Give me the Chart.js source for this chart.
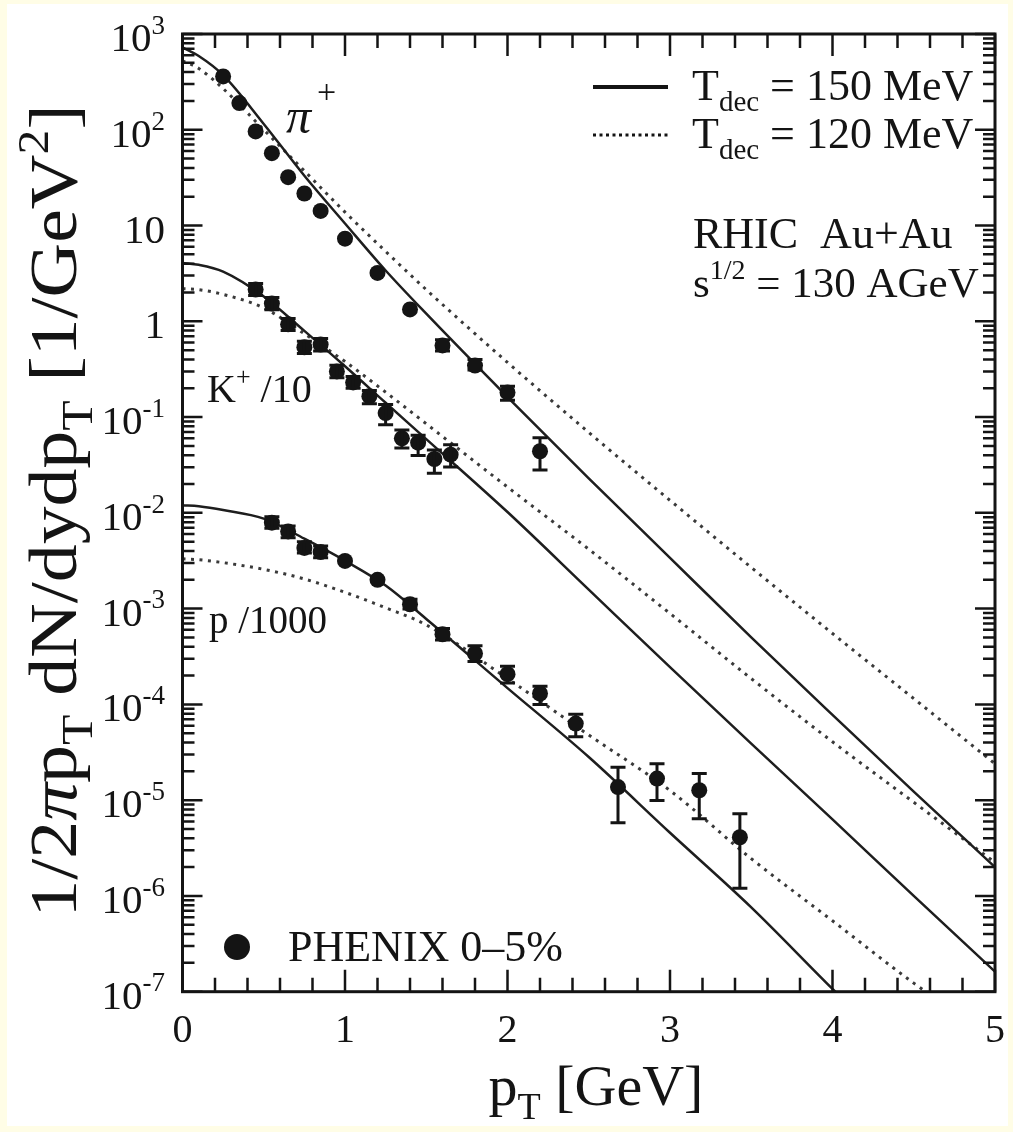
<!DOCTYPE html>
<html>
<head>
<meta charset="utf-8">
<script src="https://cdn.jsdelivr.net/npm/chart.js@4.4.1/dist/chart.umd.min.js"></script>
<style>
  html, body { margin: 0; padding: 0; background: #fffde6; }
  canvas { display: block; }
</style>
</head>
<body>
<canvas id="spectraChart" width="1013" height="1132"></canvas>
<script>
/* PHENIX 0-5% points */
const pionPt  = [0.25, 0.35, 0.45, 0.55, 0.65, 0.75, 0.85, 1.0, 1.2, 1.4, 1.6, 1.8, 2.0, 2.2];
const pionVal = [361, 190, 96, 57, 32, 21.6, 14.2, 7.3, 3.2, 1.33, 0.56, 0.345, 0.181, 0.044];
const pionLo  = [null, null, null, null, null, null, null, null, null, null, 0.49, 0.31, 0.15, 0.028];
const pionHi  = [null, null, null, null, null, null, null, null, null, null, 0.64, 0.40, 0.21, 0.061];

const kaonPt  = [0.45, 0.55, 0.65, 0.75, 0.85, 0.95, 1.05, 1.15, 1.25, 1.35, 1.45, 1.55, 1.65];
const kaonVal = [2.15, 1.53, 0.93, 0.536, 0.571, 0.30, 0.23, 0.165, 0.110, 0.060, 0.054, 0.0365, 0.0405];
const kaonLo  = [1.86, 1.32, 0.80, 0.46, 0.49, 0.257, 0.20, 0.138, 0.083, 0.0475, 0.0398, 0.0259, 0.0302];
const kaonHi  = [2.48, 1.77, 1.07, 0.62, 0.66, 0.347, 0.266, 0.19, 0.135, 0.0733, 0.0645, 0.0452, 0.0513];

const protonPt  = [0.55, 0.65, 0.75, 0.85, 1.0, 1.2, 1.4, 1.6, 1.8, 2.0, 2.2, 2.42, 2.68, 2.92, 3.18, 3.43];
const protonVal = [7.9e-3, 6.4e-3, 4.3e-3, 3.9e-3, 3.15e-3, 2.0e-3, 1.11e-3, 5.4e-4, 3.4e-4, 2.07e-4, 1.3e-4, 6.3e-5, 1.37e-5, 1.68e-5, 1.27e-5, 4.1e-6];
const protonLo  = [6.9e-3, 5.5e-3, 3.8e-3, 3.4e-3, null, null, 9.9e-4, 4.7e-4, 2.8e-4, 1.67e-4, 1.0e-4, 4.6e-5, 5.8e-6, 9.9e-6, 6.4e-6, 1.2e-6];
const protonHi  = [9.1e-3, 7.3e-3, 5.0e-3, 4.5e-3, null, null, 1.25e-3, 6.2e-4, 4.1e-4, 2.5e-4, 1.55e-4, 7.9e-5, 2.2e-5, 2.4e-5, 1.9e-5, 7.2e-6];

/* hydro curves, T_dec = 150 MeV (solid) and 120 MeV (dotted) */
const modelPt    = [0, 0.1, 0.25, 0.5, 0.75, 1, 1.25, 1.5, 2, 2.5, 3, 3.5, 4, 4.5, 5];
const pionT150   = [724, 589, 372, 115, 33.1, 10.5, 3.39, 1.20, 0.162, 0.0229, 3.39e-3, 5.0e-4, 7.76e-5, 1.23e-5, 2.0e-6];
const pionT120   = [525, 437, 269, 100, 37.2, 13.8, 5.37, 2.14, 0.372, 0.0692, 0.0135, 2.69e-3, 5.5e-4, 1.15e-4, 2.4e-5];
const kaonT150   = [4.07, 3.89, 3.31, 1.82, 0.794, 0.339, 0.141, 0.0589, 0.0102, 1.58e-3, 2.45e-4, 3.89e-5, 6.3e-6, 1.0e-6, 1.62e-7];
const kaonT120   = [2.19, 2.14, 1.91, 1.38, 0.741, 0.380, 0.182, 0.0851, 0.0186, 4.17e-3, 8.9e-4, 1.86e-4, 4.07e-5, 9.5e-6, 2.24e-6];
const protonT150 = [0.0120, 0.0117, 0.0107, 8.7e-3, 5.37e-3, 3.16e-3, 1.74e-3, 7.8e-4, 1.48e-4, 2.82e-5, 4.57e-6, 7.6e-7, 1.07e-7, 1.6e-8, 2.5e-9];
const protonT120 = [3.31e-3, 3.24e-3, 3.02e-3, 2.57e-3, 2.04e-3, 1.48e-3, 1.02e-3, 6.76e-4, 1.86e-4, 4.79e-5, 1.26e-5, 2.45e-6, 5.5e-7, 1.23e-7, 3.2e-8];

/* axes */
const xTicks = [0, 1, 2, 3, 4, 5];
const yDecades = [-7, -6, -5, -4, -3, -2, -1, 0, 1, 2, 3];

const SERIF = '"Liberation Serif", "Times New Roman", serif';
const INK = '#141414';

function pairs(xs, ys) {
  return xs.map((x, i) => ({ x: x, y: ys[i] }));
}

function points(xs, ys, lo, hi) {
  return {
    data: pairs(xs, ys), errLo: lo, errHi: hi,
    showLine: false, pointRadius: 8, pointHoverRadius: 8,
    pointBackgroundColor: INK, pointBorderColor: INK, pointBorderWidth: 0, order: 0
  };
}

function curve(ys, dotted) {
  return {
    data: pairs(modelPt, ys), showLine: true, pointRadius: 0,
    borderColor: dotted ? '#3a3a3a' : '#1e1e1e', borderWidth: dotted ? 3 : 2.5,
    borderDash: dotted ? [3, 5.5] : [], cubicInterpolationMode: 'monotone', order: 1
  };
}

// text with sub/superscripts: parts = [text, 'n' | 'sub' | 'sup', italic?]
function drawRich(c, parts, x, y, size, align) {
  const fontFor = p => (p[2] ? 'italic ' : '') + (p[1] === 'n' ? size : Math.round(size * 0.66)) + 'px ' + SERIF;
  let w = 0;
  parts.forEach(p => { c.font = fontFor(p); w += c.measureText(p[0]).width; });
  let cx = align === 'center' ? x - w / 2 : align === 'right' ? x - w : x;
  c.textAlign = 'left';
  c.textBaseline = 'alphabetic';
  parts.forEach(p => {
    c.font = fontFor(p);
    const dy = p[1] === 'sub' ? size * 0.24 : p[1] === 'sup' ? -size * 0.42 : 0;
    c.fillText(p[0], cx, y + dy);
    cx += c.measureText(p[0]).width;
  });
  return w;
}

const errorBars = {
  id: 'errorBars',
  afterDatasetsDraw(chart) {
    const c = chart.ctx, ys = chart.scales.y;
    chart.data.datasets.forEach((ds, di) => {
      if (!ds.errLo) return;
      const meta = chart.getDatasetMeta(di);
      c.save();
      c.strokeStyle = INK;
      c.lineWidth = 3;
      meta.data.forEach((pt, i) => {
        if (ds.errLo[i] == null) return;
        const y1 = ys.getPixelForValue(ds.errLo[i]);
        const y2 = ys.getPixelForValue(ds.errHi[i]);
        c.beginPath();
        c.moveTo(pt.x, y1); c.lineTo(pt.x, y2);
        c.moveTo(pt.x - 7.5, y1); c.lineTo(pt.x + 7.5, y1);
        c.moveTo(pt.x - 7.5, y2); c.lineTo(pt.x + 7.5, y2);
        c.stroke();
      });
      c.restore();
    });
  }
};

const frame = {
  id: 'frame',
  beforeDraw(chart) {
    const c = chart.ctx;
    c.save();
    c.fillStyle = '#ffffff';
    c.fillRect(7, 4, 1001, 1122);
    c.restore();
  },
  afterDraw(chart) {
    const c = chart.ctx, a = chart.chartArea;
    const xs = chart.scales.x, ys = chart.scales.y;
    c.save();
    c.strokeStyle = INK;
    c.fillStyle = INK;

    // ticks on all four sides, pointing inwards
    c.lineWidth = 2.5;
    c.beginPath();
    for (let i = 0; i <= 25; i++) {
      const v = i * 0.2;
      const px = xs.getPixelForValue(v);
      const len = i % 5 === 0 ? 22 : 14;
      c.moveTo(px, a.bottom); c.lineTo(px, a.bottom - len);
      c.moveTo(px, a.top); c.lineTo(px, a.top + len);
    }
    yDecades.forEach(e => {
      for (let m = 1; m <= 9; m++) {
        if (e === 3 && m > 1) break;
        const py = ys.getPixelForValue(m * Math.pow(10, e));
        const len = m === 1 ? 20 : 12;
        c.moveTo(a.left, py); c.lineTo(a.left + len, py);
        c.moveTo(a.right, py); c.lineTo(a.right - len, py);
      }
    });
    c.stroke();

    c.lineWidth = 3;
    c.strokeRect(a.left, a.top, a.right - a.left, a.bottom - a.top);

    // tick labels
    c.font = '40px ' + SERIF;
    c.textAlign = 'center';
    c.textBaseline = 'alphabetic';
    xTicks.forEach(v => c.fillText(String(v), xs.getPixelForValue(v), 1042));

    yDecades.forEach(e => {
      const py = ys.getPixelForValue(Math.pow(10, e)) + 17;
      let parts;
      if (e === 0) parts = [['1', 'n']];
      else if (e === 1) parts = [['10', 'n']];
      else parts = [['10', 'n'], [String(e), 'sup']];
      drawRich(c, parts, 165, py, 41, 'right');
    });

    // axis titles
    drawRich(c, [['p', 'n'], ['T', 'sub'], [' [GeV]', 'n']], 596, 1105, 58, 'center');
    c.save();
    c.translate(76, 511);
    c.rotate(-Math.PI / 2);
    c.scale(1.13, 1);
    drawRich(c, [['1/2', 'n'], ['π', 'n', true], ['p', 'n'], ['T', 'sub'], [' dN/dydp', 'n'], ['T', 'sub'],
                 [' [1/GeV', 'n'], ['2', 'sup'], [']', 'n']], 0, 0, 67, 'center');
    c.restore();

    // species labels
    c.font = 'italic 50px ' + SERIF;
    c.textAlign = 'left';
    c.fillText('π', 286, 133);
    c.font = '34px ' + SERIF;
    c.fillText('+', 317, 103);
    drawRich(c, [['K', 'n'], ['+', 'sup'], [' /10', 'n']], 207, 402, 40, 'left');
    drawRich(c, [['p /1000', 'n']], 209, 633, 39, 'left');

    // legend, top right
    c.lineWidth = 4;
    c.beginPath(); c.moveTo(593, 87); c.lineTo(668, 87); c.stroke();
    c.lineWidth = 3;
    c.setLineDash([3, 3.5]);
    c.beginPath(); c.moveTo(593, 135); c.lineTo(668, 135); c.stroke();
    c.setLineDash([]);
    drawRich(c, [['T', 'n'], ['dec', 'sub'], [' = 150 MeV', 'n']], 692, 100, 44, 'left');
    drawRich(c, [['T', 'n'], ['dec', 'sub'], [' = 120 MeV', 'n']], 692, 148, 44, 'left');
    drawRich(c, [['RHIC  Au+Au', 'n']], 693, 248, 44, 'left');
    drawRich(c, [['s', 'n'], ['1/2', 'sup'], [' = 130 AGeV', 'n']], 693, 297, 43, 'left');

    // data legend, bottom left
    c.beginPath(); c.arc(237, 947, 13, 0, 2 * Math.PI); c.fill();
    drawRich(c, [['PHENIX 0–5%', 'n']], 288, 961, 44, 'left');
    c.restore();
  }
};

const ctx = document.getElementById('spectraChart').getContext('2d');
const spectraChart = new Chart(ctx, {
  type: 'scatter',
  data: {
    datasets: [
      points(pionPt, pionVal, pionLo, pionHi),
      points(kaonPt, kaonVal, kaonLo, kaonHi),
      points(protonPt, protonVal, protonLo, protonHi),
      curve(pionT150, false), curve(pionT120, true),
      curve(kaonT150, false), curve(kaonT120, true),
      curve(protonT150, false), curve(protonT120, true)
    ]
  },
  options: {
    responsive: false,
    animation: false,
    devicePixelRatio: 1,
    layout: { padding: { left: 182.5, right: 18, top: 34, bottom: 140.3 } },
    plugins: { legend: { display: false }, tooltip: { enabled: false } },
    scales: {
      x: { type: 'linear', min: 0, max: 5, display: false },
      y: { type: 'logarithmic', min: 1e-7, max: 1e3, display: false }
    }
  },
  plugins: [frame, errorBars]
});
</script>
</body>
</html>
